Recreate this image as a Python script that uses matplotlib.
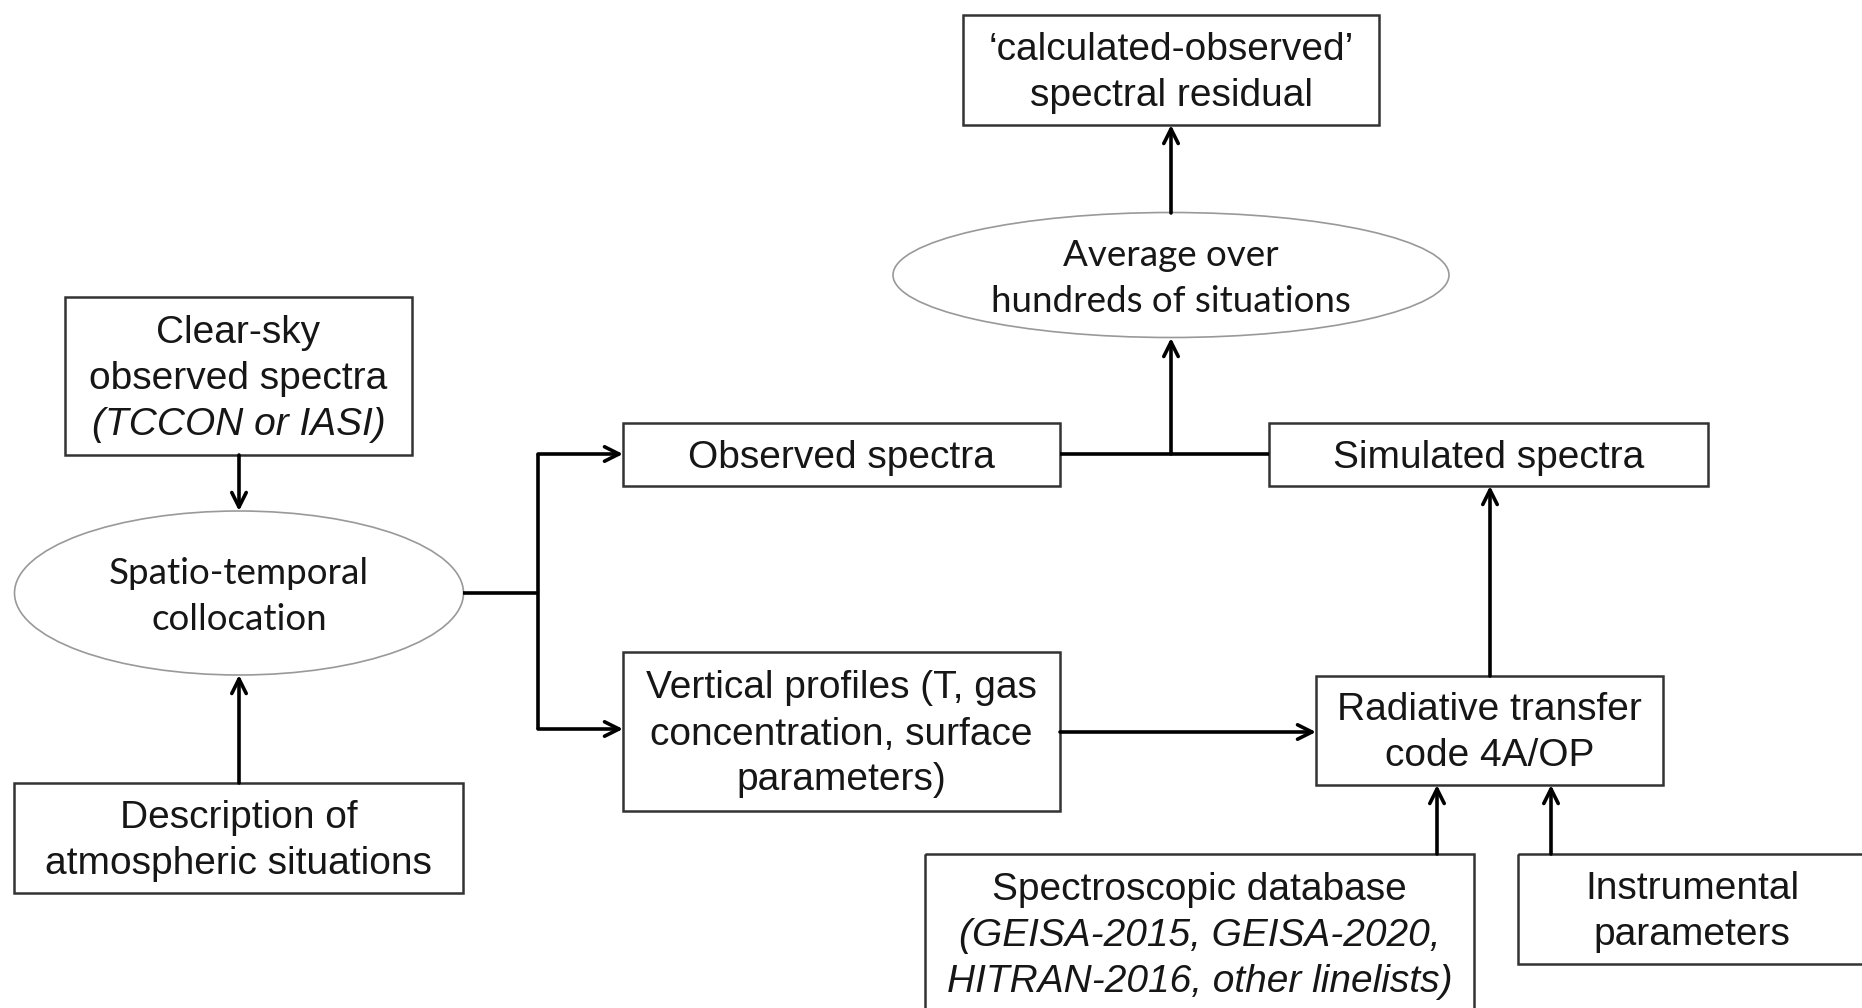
import matplotlib.pyplot as plt
from matplotlib.patches import Rectangle, Ellipse

# Тексты блоков схемы (строка, курсив?)
calc_obs_lines = [("\u2018calculated-observed\u2019", False), ("spectral residual", False)]
average_lines = [("Average over", False), ("hundreds of situations", False)]
clear_sky_lines = [("Clear-sky", False), ("observed spectra", False), ("(TCCON or IASI)", True)]
colloc_lines = [("Spatio-temporal", False), ("collocation", False)]
descr_lines = [("Description of", False), ("atmospheric situations", False)]
observed_lines = [("Observed spectra", False)]
simulated_lines = [("Simulated spectra", False)]
vertical_lines = [("Vertical profiles (T, gas", False), ("concentration, surface", False), ("parameters)", False)]
radiative_lines = [("Radiative transfer", False), ("code 4A/OP", False)]
spectro_lines = [("Spectroscopic database", False), ("(GEISA-2015, GEISA-2020,", True),
                 ("HITRAN-2016, other linelists)", True)]
instr_lines = [("Instrumental", False), ("parameters", False)]

# Геометрия в пикселях (x0, y0, x1, y1)
boxes = {
    'calc': (963, 15, 1379, 125, calc_obs_lines),
    'clear': (65, 297, 412, 455, clear_sky_lines),
    'descr': (14, 783, 463, 893, descr_lines),
    'obs': (623, 423, 1060, 486, observed_lines),
    'sim': (1269, 423, 1708, 486, simulated_lines),
    'vert': (623, 652, 1060, 811, vertical_lines),
    'rad': (1316, 676, 1663, 785, radiative_lines),
    'spec': (925, 854, 1474, 1040, spectro_lines),
    'instr': (1518, 854, 1866, 964, instr_lines),
}
ellipses = {
    'avg': (1171, 275, 556, 125, average_lines),
    'coll': (239, 593, 449, 164, colloc_lines),
}

LINE_H = 46
BOX_FONT = 'Liberation Sans'
ELL_FONT = 'Lato'

fig = plt.figure(figsize=(18.62, 10.08), dpi=100)
ax = fig.add_axes([0, 0, 1, 1])
ax.set_xlim(0, 1862)
ax.set_ylim(1008, 0)
ax.axis('off')


def draw_lines(cx, cy, lines, family, size):
    n = len(lines)
    for i, (txt, ital) in enumerate(lines):
        y = cy + 3 + (i - (n - 1) / 2) * LINE_H
        ax.text(cx, y, txt, ha='center', va='center', fontsize=size,
                family=family, style='italic' if ital else 'normal', color='#161616')


for key, (x0, y0, x1, y1, lines) in boxes.items():
    ax.add_patch(Rectangle((x0, y0), x1 - x0, y1 - y0, fill=False,
                           edgecolor='#333333', lw=1.8))
    cy = (y0 + y1) / 2
    if key == 'spec':
        cy = 933
    draw_lines((x0 + x1) / 2, cy, lines, BOX_FONT, 28)

for key, (cx, cy, w, h, lines) in ellipses.items():
    ax.add_patch(Ellipse((cx, cy), w, h, fill=False, edgecolor='#999999', lw=1.2))
    draw_lines(cx, cy, lines, ELL_FONT, 26.5)

LW = 2.6


def arrow(p0, p1):
    ax.annotate('', xy=p1, xytext=p0,
                arrowprops=dict(arrowstyle='->', lw=LW, color='black',
                                shrinkA=0, shrinkB=0, mutation_scale=26))


def line(xs, ys):
    ax.plot(xs, ys, color='black', lw=LW, solid_capstyle='butt')


# Связи
arrow((239, 455), (239, 511))
arrow((239, 783), (239, 675))
line([463, 538], [593, 593])
line([538, 538], [454, 729])
arrow((538, 454), (623, 454))
arrow((538, 729), (623, 729))
line([1060, 1269], [454, 454])
arrow((1171, 454), (1171, 338))
arrow((1171, 213), (1171, 125))
arrow((1060, 732), (1316, 732))
arrow((1490, 676), (1490, 486))
arrow((1437, 854), (1437, 785))
arrow((1551, 854), (1551, 785))

fig.savefig('out.png', dpi=100, facecolor='white')
